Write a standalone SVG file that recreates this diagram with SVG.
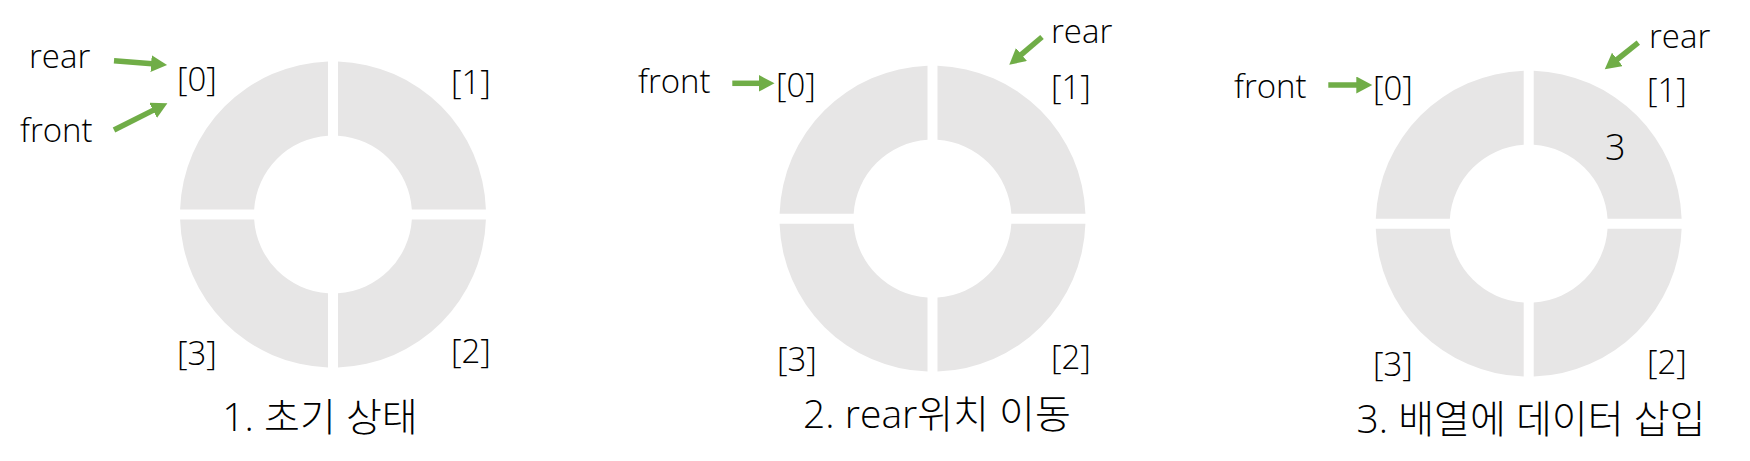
<svg xmlns="http://www.w3.org/2000/svg" xmlns:xlink="http://www.w3.org/1999/xlink" width="1750" height="461" viewBox="0 0 1750 461">
  <style>
    .seg { fill: #E7E6E6; }
    .lbl { font-family: "Open Sans", "Noto Sans CJK KR", sans-serif; font-size: 33px; font-weight: 350; fill: #000; }
    .cap { font-family: "Open Sans", "Noto Sans CJK KR", sans-serif; font-size: 39px; font-weight: 300; fill: #000; text-anchor: middle; }
    .arr { stroke: #70AD47; stroke-width: 5.5; fill: none; marker-end: url(#head); }
  </style>
  <defs>
    <path id="q" d="M5,-152.92 A153,153 0 0 1 152.92,-5 L78.84,-5 A79,79 0 0 0 5,-78.84 Z"/>
    <marker id="head" markerUnits="userSpaceOnUse" markerWidth="17" markerHeight="18" refX="1" refY="8.5" orient="auto">
      <path d="M0,0 L16,8.5 L0,17 Z" fill="#70AD47"/>
    </marker>
  </defs>
  <rect width="1750" height="461" fill="#fff"/>

  <g id="ring1">
    <g transform="translate(333,214.5)">
      <use xlink:href="#q" class="seg" transform="rotate(-90)"/>
      <use xlink:href="#q" class="seg"/>
      <use xlink:href="#q" class="seg" transform="rotate(90)"/>
      <use xlink:href="#q" class="seg" transform="rotate(180)"/>
    </g>
    <text class="lbl" x="177" y="91">[0]</text>
    <text class="lbl" x="451" y="94">[1]</text>
    <text class="lbl" x="451" y="363">[2]</text>
    <text class="lbl" x="177" y="365">[3]</text>
    <text class="lbl" x="29" y="68">rear</text>
    <text class="lbl" x="20" y="142">front</text>
    <text class="cap" x="320" y="431">1. 초기 상태</text>
  </g>

  <g id="ring2">
    <g transform="translate(932.5,218.7)">
      <use xlink:href="#q" class="seg" transform="rotate(-90)"/>
      <use xlink:href="#q" class="seg"/>
      <use xlink:href="#q" class="seg" transform="rotate(90)"/>
      <use xlink:href="#q" class="seg" transform="rotate(180)"/>
    </g>
    <text class="lbl" x="776" y="97">[0]</text>
    <text class="lbl" x="1051" y="99">[1]</text>
    <text class="lbl" x="1051" y="369">[2]</text>
    <text class="lbl" x="777" y="371">[3]</text>
    <text class="lbl" x="638" y="93">front</text>
    <text class="lbl" x="1051" y="43">rear</text>
    <text class="cap" x="937" y="428">2. rear위치 이동</text>
  </g>

  <g id="ring3">
    <g transform="translate(1528.7,223.7)">
      <use xlink:href="#q" class="seg" transform="rotate(-90)"/>
      <use xlink:href="#q" class="seg"/>
      <use xlink:href="#q" class="seg" transform="rotate(90)"/>
      <use xlink:href="#q" class="seg" transform="rotate(180)"/>
    </g>
    <text class="lbl" x="1373" y="100">[0]</text>
    <text class="lbl" x="1647" y="102">[1]</text>
    <text class="lbl" x="1647" y="374">[2]</text>
    <text class="lbl" x="1373" y="376">[3]</text>
    <text class="lbl" x="1605" y="160" style="font-size:36px">3</text>
    <text class="lbl" x="1234" y="98">front</text>
    <text class="lbl" x="1649" y="48">rear</text>
    <text class="cap" x="1531" y="433">3. 배열에 데이터 삽입</text>
  </g>

  <g id="connectors">
    <line class="arr" x1="114" y1="60.7" x2="152.1" y2="63.7"/>
    <line class="arr" x1="114" y1="130" x2="154" y2="109.9"/>
    <line class="arr" x1="732.3" y1="83.3" x2="759.5" y2="83.3"/>
    <line class="arr" x1="1042" y1="37" x2="1020.7" y2="55.1"/>
    <line class="arr" x1="1328.3" y1="85" x2="1357.3" y2="85"/>
    <line class="arr" x1="1638.3" y1="42.7" x2="1616.5" y2="60"/>
  </g>
</svg>
